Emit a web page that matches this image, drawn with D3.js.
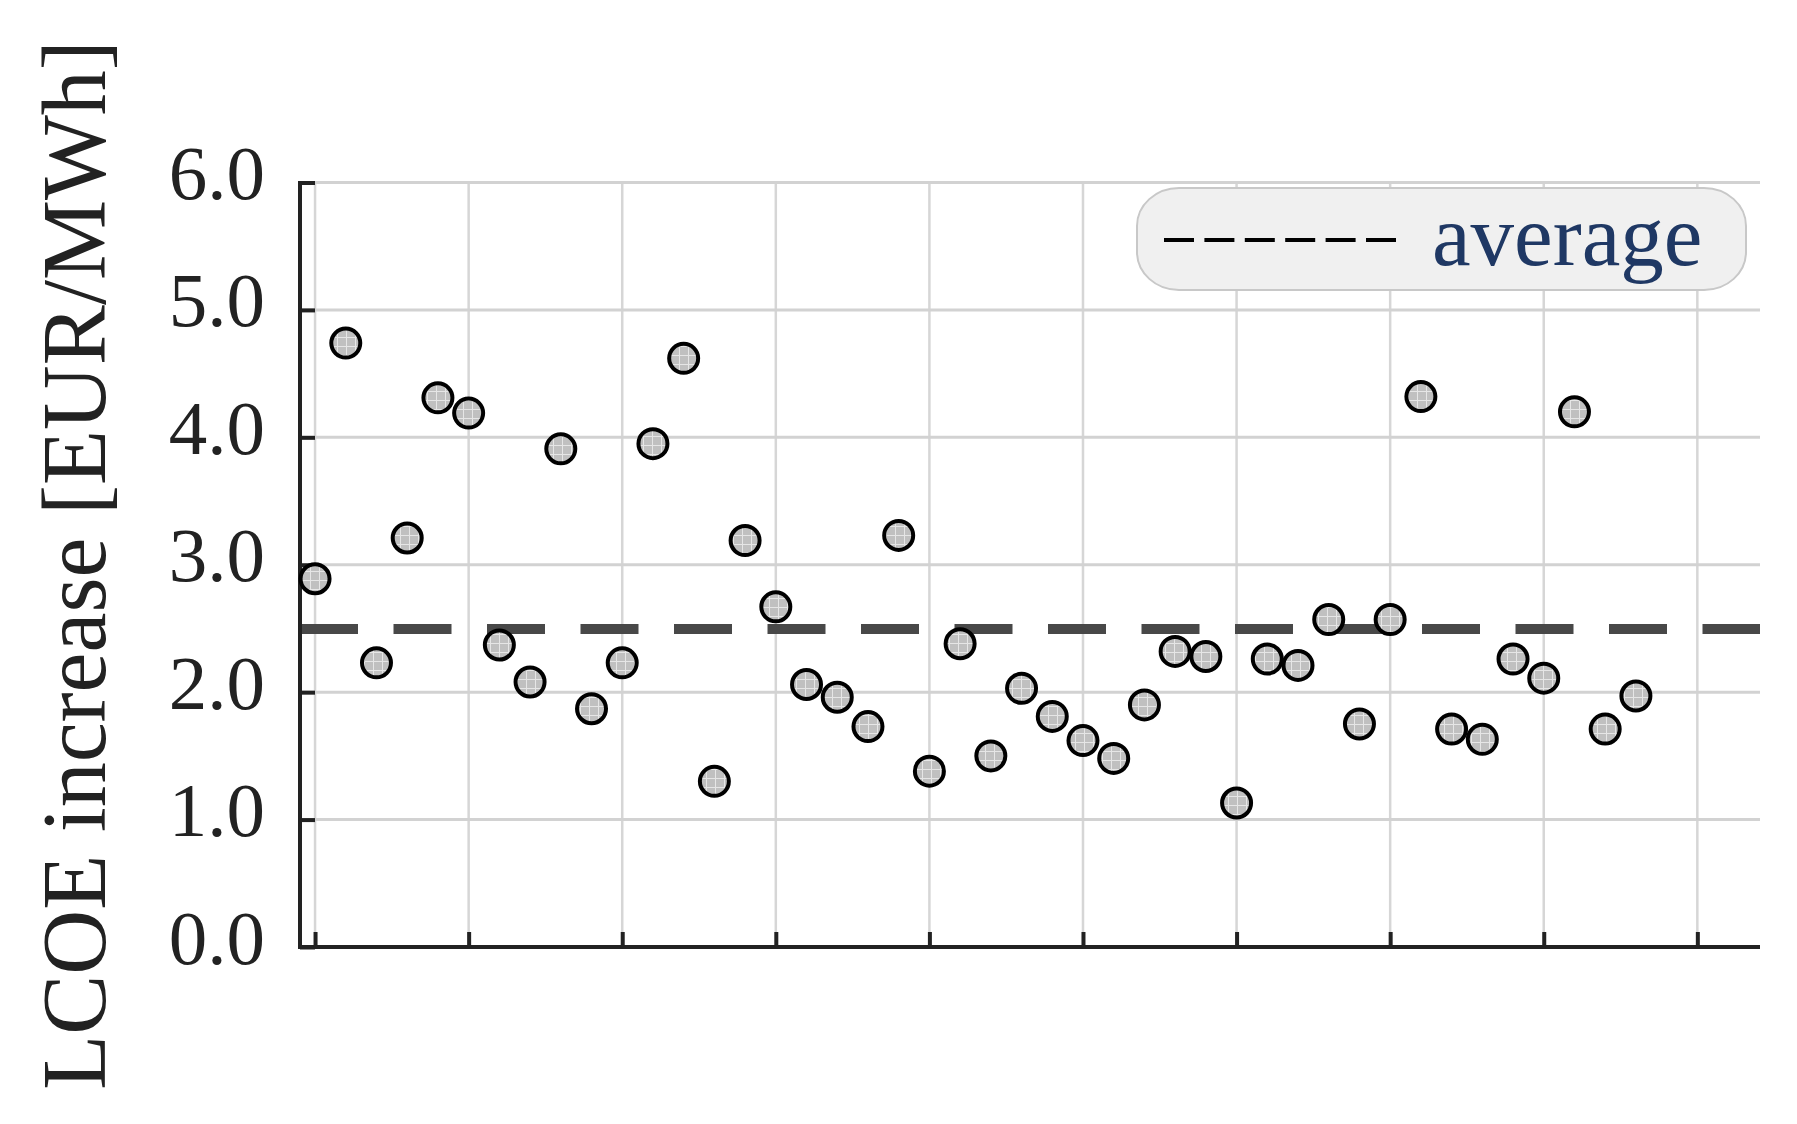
<!DOCTYPE html>
<html>
<head>
<meta charset="utf-8">
<script src="https://cdn.jsdelivr.net/npm/d3@7"></script>
<style>
	html, body { margin: 0; padding: 0; background: #fff; }
	svg { display: block; }
	text { font-family: "Liberation Serif", "DejaVu Serif", serif; }
</style>
</head>
<body>
<script>
// LCOE increase per case
var lcoeIncrease = [
	2.89, 4.74, 2.23, 3.21, 4.31, 4.19, 2.37, 2.08, 3.91, 1.87,
	2.23, 3.95, 4.62, 1.30, 3.19, 2.67, 2.06, 1.96, 1.73, 3.23,
	1.38, 2.38, 1.50, 2.03, 1.81, 1.62, 1.48, 1.90, 2.32, 2.28,
	1.13, 2.26, 2.21, 2.57, 1.75, 2.57, 4.32, 1.71, 1.63, 2.26,
	2.11, 4.20, 1.71, 1.97
];
var yTicks = [0, 1, 2, 3, 4, 5, 6];
var xTicks = [0, 5, 10, 15, 20, 25, 30, 35, 40, 45];
var legendLabel = "average";
var yLabel = "LCOE increase [EUR/MWh]";

function makeChart() {
	var svg_width = 1797,
	svg_height = 1124;

	var left = 300, right = 1760, top = 182.5, bottom = 947;

	var x = d3.scaleLinear().domain([-0.49, 47.04]).range([left, right]);
	var y = d3.scaleLinear().domain([0, 6]).range([bottom, top]);

	var svg = d3.select("body").append("svg")
		.attr("width", svg_width)
		.attr("height", svg_height);

	// hatch inside the markers
	var pat = svg.append("defs").append("pattern")
		.attr("id", "hatch")
		.attr("patternUnits", "userSpaceOnUse")
		.attr("width", 9).attr("height", 9);
	pat.append("rect").attr("width", 9).attr("height", 9).attr("fill", "#c0c0c0");
	pat.append("path").attr("d", "M4.5,0V9M0,4.5H9")
		.attr("stroke", "#e6e6e6").attr("stroke-width", 1);

	// grid
	var grid = svg.append("g").attr("class", "grid");
	grid.selectAll("line.gx")
		.data(xTicks).enter()
		.append("line").attr("class", "gx")
		.attr("x1", d => x(d)).attr("x2", d => x(d))
		.attr("y1", top).attr("y2", bottom)
		.attr("stroke", "#d6d6d6").attr("stroke-width", 2.5);
	grid.selectAll("line.gy")
		.data(yTicks).enter()
		.append("line").attr("class", "gy")
		.attr("x1", left).attr("x2", right)
		.attr("y1", d => y(d)).attr("y2", d => y(d))
		.attr("stroke", "#d2d2d2").attr("stroke-width", 3);

	// average line
	var avg = d3.mean(lcoeIncrease);
	svg.append("line")
		.attr("x1", left).attr("x2", right)
		.attr("y1", y(avg)).attr("y2", y(avg))
		.attr("stroke", "#484848")
		.attr("stroke-width", 10)
		.attr("stroke-dasharray", "58,35.5");

	// axes
	var yAxis = d3.axisLeft(y).tickValues(yTicks)
		.tickSize(-15).tickPadding(35).tickFormat(d3.format(".1f"));
	var gy = svg.append("g")
		.attr("transform", "translate(" + left + ",0)")
		.call(yAxis);
	gy.select(".domain").attr("stroke", "#222").attr("stroke-width", 4);
	gy.selectAll(".tick line").attr("stroke", "#222").attr("stroke-width", 4);
	gy.selectAll(".tick text")
		.attr("font-size", 77)
		.attr("fill", "#222")
		.attr("dy", null)
		.attr("y", 16)
		.attr("x", -35);

	var xAxis = d3.axisBottom(x).tickValues(xTicks)
		.tickSize(-15).tickFormat("");
	var gx = svg.append("g")
		.attr("transform", "translate(0," + bottom + ")")
		.call(xAxis);
	gx.select(".domain").attr("stroke", "#222").attr("stroke-width", 4)
		.attr("d", "M" + (left - 2) + ",0H" + right);
	gx.selectAll(".tick line").attr("stroke", "#222").attr("stroke-width", 4);
	gy.select(".domain").attr("d", "M0," + (top - 1.5) + "V" + (bottom + 2));

	// points
	svg.append("g").selectAll("circle.pt")
		.data(lcoeIncrease).enter()
		.append("circle").attr("class", "pt")
		.attr("cx", (d, i) => x(i))
		.attr("cy", d => y(d))
		.attr("r", 14.5)
		.attr("fill", "url(#hatch)")
		.attr("stroke", "#000")
		.attr("stroke-width", 4);

	// y label
	svg.append("text")
		.attr("transform", "translate(105,565)rotate(-90)")
		.attr("text-anchor", "middle")
		.attr("font-size", 90)
		.attr("fill", "#222")
		.text(yLabel);

	// legend
	var lg = svg.append("g").attr("class", "legend");
	lg.append("rect")
		.attr("x", 1137).attr("y", 188)
		.attr("width", 609).attr("height", 102)
		.attr("rx", 42).attr("ry", 38)
		.attr("fill", "#f0f0f0")
		.attr("stroke", "#c8c8c8")
		.attr("stroke-width", 2);
	lg.append("line")
		.attr("x1", 1164).attr("x2", 1396)
		.attr("y1", 240).attr("y2", 240)
		.attr("stroke", "#000")
		.attr("stroke-width", 4)
		.attr("stroke-dasharray", "30,10.4");
	lg.append("text")
		.attr("x", 1432).attr("y", 265)
		.attr("font-size", 87)
		.attr("fill", "#1f3864")
		.text(legendLabel);
}

window.addEventListener('DOMContentLoaded', makeChart)
</script>
</body>
</html>
